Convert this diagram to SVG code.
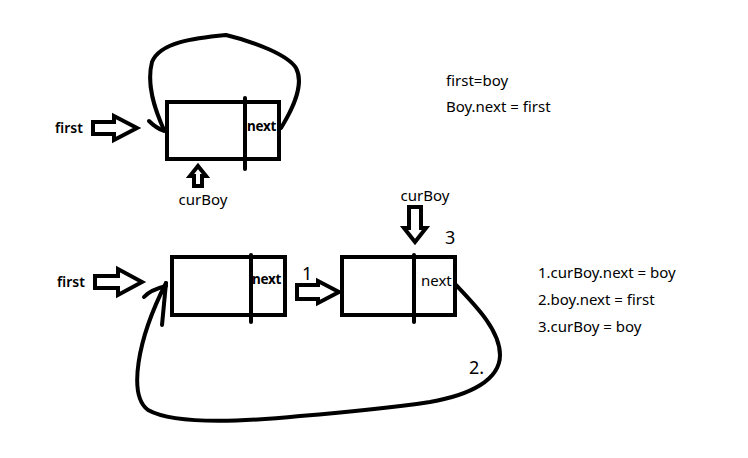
<svg xmlns="http://www.w3.org/2000/svg" width="748" height="458" viewBox="0 0 748 458">
<style>
.box{fill:none;stroke:#000;stroke-width:4}
.ln{fill:none;stroke:#000;stroke-width:4;stroke-linecap:round;stroke-linejoin:round}
.ha{fill:#fff;stroke:#000;stroke-width:4;stroke-linejoin:miter}
.t{font-family:"Noto Sans","Open Sans",sans-serif;font-size:15px;fill:#000}
.lb{font-family:"Noto Sans","Open Sans",sans-serif;font-size:14px;font-weight:600;fill:#000}
.nx{font-family:"Noto Sans","Open Sans",sans-serif;font-size:13.5px;font-weight:700;fill:#000;letter-spacing:-0.3px}
.num{font-family:"Noto Sans","Open Sans",sans-serif;font-size:18px;fill:#000}
</style>
<rect width="748" height="458" fill="#fff"/>
<g id="connectors">
<path class="ln" d="M281 128 C292 110,305 85,296 68 C288 55,255 42,226 35 C195 38,160 42,152 62 C146 85,155 110,164 130"/>
<path class="ln" d="M149 121 Q156 128 164 131"/>
<path class="ln" d="M456 285 C475 305,500 330,500 355 C500 380,470 395,430 402 C390 408,350 412,300 416 C240 422,175 425,148 410 C128 395,137 340,166 283"/>
<path class="ln" d="M166 283 L162 325"/>
<path class="ln" d="M144 297 Q150 290 166 286"/>
<path class="ha" d="M297 285 L318 285 L318 281 L339 292 L318 303 L318 299 L297 299 Z"/>
</g>
<g id="node-top">
<rect class="box" x="167" y="102" width="112" height="57"/>
<line class="ln" x1="245" y1="98" x2="245" y2="169"/>
<text class="nx" x="247" y="131">next</text>
</g>
<g id="first-top">
<text class="lb" x="55" y="133">first</text>
<path class="ha" d="M93 122 L114 122 L114 116 L137 128 L114 140 L114 134 L93 134 Z"/>
</g>
<g id="curBoy-top">
<path class="ha" d="M198 166 L206 176 L202 176 L202 186 L194 186 L194 176 L190 176 Z"/>
<text class="t" x="203" y="205" text-anchor="middle">curBoy</text>
</g>
<g id="node-b1">
<rect class="box" x="172" y="257" width="113" height="58"/>
<line class="ln" x1="251" y1="255" x2="251" y2="322"/>
<text class="nx" x="252" y="284">next</text>
</g>
<g id="node-b2">
<rect class="box" x="342" y="257" width="113" height="58"/>
<line class="ln" x1="414" y1="255" x2="414" y2="322"/>
<text class="t" x="421" y="286">next</text>
</g>
<g id="first-bottom">
<text class="lb" x="57" y="287">first</text>
<path class="ha" d="M95 276 L118 276 L118 269 L142 282 L118 295 L118 288 L95 288 Z"/>
</g>
<g id="curBoy-bottom">
<text class="t" x="425" y="201" text-anchor="middle">curBoy</text>
<path class="ha" d="M409 207 L421 207 L421 228 L426 228 L415 242 L404 228 L409 228 Z"/>
</g>
<g id="labels">
<text class="num" x="302" y="280">1</text>
<text class="num" x="445" y="244">3</text>
<text class="num" x="469" y="374">2.</text>
<text class="t" x="446" y="86">first=boy</text>
<text class="t" x="446" y="112">Boy.next = first</text>
<text class="t" x="538" y="278">1.curBoy.next = boy</text>
<text class="t" x="538" y="305">2.boy.next = first</text>
<text class="t" x="538" y="332">3.curBoy = boy</text>
</g>
</svg>
